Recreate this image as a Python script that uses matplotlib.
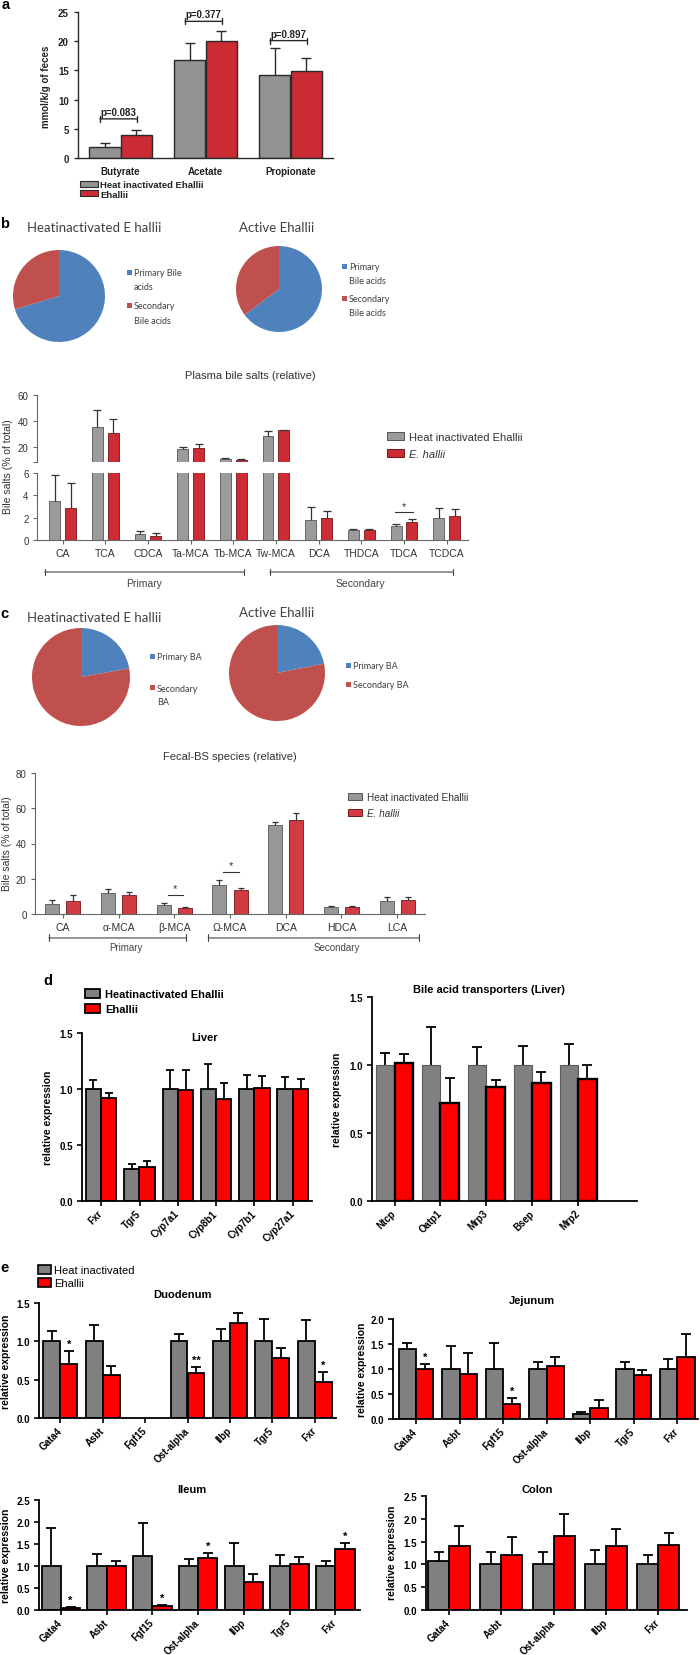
import numpy as np
import matplotlib
matplotlib.use("Agg")
import matplotlib.pyplot as plt
from matplotlib.patches import Rectangle

nan = np.nan

# ---------------- (a) faecal short-chain fatty acids ----------------
scfa_names = ["Butyrate", "Acetate", "Propionate"]
scfa_heat = [1.83, 16.8, 14.2]
scfa_heat_err = [0.74, 2.9, 4.6]
scfa_ehal = [4.0, 20.0, 14.9]
scfa_ehal_err = [0.86, 1.7, 2.3]
scfa_pvals = ["p=0.083", "p=0.377", "p=0.897"]
scfa_bracket_y = [6.7, 23.4, 20.1]

# ---------------- (b) plasma bile acids ----------------
pie_b_heat = [70.3, 29.7]      # primary, secondary
pie_b_active = [64.7, 35.3]
plasma_species = ["CA", "TCA", "CDCA", "Ta-MCA", "Tb-MCA", "Tw-MCA",
                  "DCA", "THDCA", "TDCA", "TCDCA"]
plasma_heat = [3.49, 35.2, 0.51, 17.9, 10.2, 28.3, 1.76, 0.90, 1.22, 2.00]
plasma_heat_err = [2.30, 13.2, 0.27, 1.8, 0.8, 4.1, 1.23, 0.11, 0.24, 0.90]
plasma_ehal = [2.87, 30.8, 0.36, 19.2, 9.2, 32.6, 2.00, 0.90, 1.58, 2.18]
plasma_ehal_err = [2.23, 10.4, 0.30, 3.1, 1.3, 0.0, 0.63, 0.09, 0.27, 0.63]
plasma_sig = ["", "", "", "", "", "", "", "", "*", ""]

# ---------------- (c) faecal bile acids ----------------
pie_c_heat = [22.2, 77.8]
pie_c_active = [21.9, 78.1]
fecal_species = ["CA", "α-MCA", "β-MCA", "Ω-MCA", "DCA", "HDCA", "LCA"]
fecal_heat = [5.9, 11.9, 4.9, 16.6, 50.3, 3.8, 7.6]
fecal_heat_err = [1.85, 2.1, 1.15, 2.5, 1.7, 0.55, 1.9]
fecal_ehal = [7.6, 10.6, 3.6, 13.4, 53.3, 3.8, 8.1]
fecal_ehal_err = [3.0, 2.1, 0.56, 1.35, 3.8, 0.55, 1.5]
fecal_sig = ["", "", "*", "*", "", "", ""]

# ---------------- (d) liver ----------------
liver_genes = ["Fxr", "Tgr5", "Cyp7a1", "Cyp8b1", "Cyp7b1", "Cyp27a1"]
liver_heat = [1.0, 0.289, 1.0, 1.0, 1.0, 1.0]
liver_heat_err = [0.083, 0.041, 0.17, 0.22, 0.128, 0.104]
liver_ehal = [0.92, 0.30, 0.99, 0.914, 1.012, 1.0]
liver_ehal_err = [0.041, 0.057, 0.18, 0.14, 0.107, 0.086]

trans_genes = ["Ntcp", "Oatp1", "Mrp3", "Bsep", "Mrp2"]
trans_heat = [1.0, 1.0, 1.0, 1.0, 1.0]
trans_heat_err = [0.089, 0.283, 0.13, 0.143, 0.155]
trans_ehal = [1.017, 0.717, 0.835, 0.867, 0.897]
trans_ehal_err = [0.062, 0.184, 0.052, 0.084, 0.103]

# ---------------- (e) intestine ----------------
gut_genes = ["Gata4", "Asbt", "Fgf15", "Ost-alpha", "Ilbp", "Tgr5", "Fxr"]
duo_heat = [1.0, 1.0, nan, 1.0, 1.0, 1.0, 1.0]
duo_heat_err = [0.13, 0.217, nan, 0.10, 0.16, 0.287, 0.278]
duo_ehal = [0.704, 0.56, nan, 0.59, 1.24, 0.787, 0.465]
duo_ehal_err = [0.17, 0.118, nan, 0.075, 0.125, 0.126, 0.131]
duo_sig = ["*", "", "", "**", "", "", "*"]

jej_heat = [1.394, 1.0, 1.0, 1.0, 0.094, 1.0, 1.0]
jej_heat_err = [0.126, 0.455, 0.52, 0.138, 0.046, 0.15, 0.2]
jej_ehal = [1.0, 0.91, 0.296, 1.07, 0.215, 0.889, 1.24]
jej_ehal_err = [0.10, 0.403, 0.128, 0.18, 0.175, 0.087, 0.47]
jej_sig = ["*", "", "*", "", "", "", ""]

ile_heat = [1.0, 1.0, 1.227, 1.0, 1.0, 1.0, 1.0]
ile_heat_err = [0.856, 0.265, 0.758, 0.16, 0.515, 0.242, 0.106]
ile_ehal = [0.045, 1.008, 0.09, 1.19, 0.636, 1.045, 1.394]
ile_ehal_err = [0.015, 0.112, 0.03, 0.10, 0.182, 0.165, 0.136]
ile_sig = ["*", "", "*", "*", "", "", "*"]

colon_genes = ["Gata4", "Asbt", "Ost-alpha", "Ilbp", "Fxr"]
col_heat = [1.067, 1.0, 1.0, 1.0, 1.0]
col_heat_err = [0.203, 0.27, 0.28, 0.31, 0.20]
col_ehal = [1.40, 1.213, 1.623, 1.40, 1.425]
col_ehal_err = [0.435, 0.381, 0.487, 0.37, 0.255]

# ====================================================================
W, H = 700, 1656
plt.rcParams["font.family"] = ["Liberation Sans", "DejaVu Sans"]
fig = plt.figure(figsize=(W / 100, H / 100), dpi=100)

BLUE, PRED = "#4F81BD", "#C0504D"
CAL = ["Lato", "DejaVu Sans"]


def axpx(l, t, r, b):
    return fig.add_axes([l / W, 1 - b / H, (r - l) / W, (b - t) / H])


def ftext(x, y, s, **kw):
    return fig.text(x / W, 1 - y / H, s, **kw)


def key(x, yc, w, h, fc, ec, lw, label, tx, **kw):
    fig.add_artist(Rectangle((x / W, 1 - (yc + h / 2) / H), w / W, h / H,
                             transform=fig.transFigure, facecolor=fc,
                             edgecolor=ec, linewidth=lw))
    ftext(tx, yc, label, va="center_baseline", **kw)


def paired(ax, x, m1, e1, m2, e2, off, width, c1, c2, ec1, ec2, lw1, lw2,
           ecol, elw, cap):
    m1 = np.asarray(m1, float); m2 = np.asarray(m2, float)
    e1 = np.asarray(e1, float); e2 = np.asarray(e2, float)
    ax.bar(x - off, m1, width, color=c1, edgecolor=ec1, linewidth=lw1, zorder=2)
    ax.bar(x + off, m2, width, color=c2, edgecolor=ec2, linewidth=lw2, zorder=2)
    for xx, m, e in ((x - off, m1, e1), (x + off, m2, e2)):
        _, caps, _ = ax.errorbar(xx, m, yerr=[np.zeros_like(m), e], fmt="none",
                                 ecolor=ecol, elinewidth=elw, capsize=cap,
                                 capthick=elw, zorder=3)
        if len(caps) == 2:
            caps[0].set_visible(False)


def spines(ax, color, lw, left=True, bottom=True):
    ax.spines["top"].set_visible(False)
    ax.spines["right"].set_visible(False)
    ax.spines["left"].set_visible(left)
    ax.spines["bottom"].set_visible(bottom)
    for s in ("left", "bottom"):
        ax.spines[s].set_color(color)
        ax.spines[s].set_linewidth(lw)


def pie_at(cx, cy, r, vals):
    ax = axpx(cx - r, cy - r, cx + r, cy + r)
    ax.pie(vals, colors=[BLUE, PRED], startangle=90, counterclock=False,
           wedgeprops=dict(linewidth=0))
    ax.set_xlim(-1, 1); ax.set_ylim(-1, 1)
    ax.set_aspect("equal", adjustable="box")
    ax.axis("off")


def pie_legend(sq_x, tx, rows, size=6.5):
    for lines, yc, col in rows:
        fig.add_artist(Rectangle((sq_x / W, 1 - (yc + 2.5) / H), 5 / W, 5 / H,
                                 transform=fig.transFigure, facecolor=col,
                                 edgecolor="none"))
        for k, ln in enumerate(lines):
            ftext(tx, yc + 14 * k, ln, va="center_baseline", family=CAL,
                  fontsize=size, color="#404040")


# panel letters
for lab, (lx, ly) in {"a": (2, 9), "b": (0, 228), "c": (0, 618),
                      "d": (43, 985), "e": (0, 1272)}.items():
    ftext(lx, ly, lab, fontsize=10.5, fontweight="bold", va="baseline")

# ======================= (a) =======================
ax = axpx(78, 13, 333, 159)
x = np.arange(len(scfa_names))
paired(ax, x, scfa_heat, scfa_heat_err, scfa_ehal, scfa_ehal_err, 0.185, 0.37,
       "#939393", "#CB2C34", "#2a2a2a", "#2a2a2a", 1.0, 1.0, "#2a2a2a", 1.0, 3.5)
ax.set_xlim(-0.5, 2.5); ax.set_ylim(0, 25)
ax.set_yticks([0, 5, 10, 15, 20, 25])
ax.set_xticks(x); ax.set_xticklabels(scfa_names)
spines(ax, "#2a2a2a", 1.0)
ax.tick_params(axis="x", length=0, pad=6)
ax.tick_params(axis="y", length=3, width=1, color="#2a2a2a")
for t in ax.get_xticklabels() + ax.get_yticklabels():
    t.set_fontweight("bold"); t.set_fontsize(7); t.set_color("#222")
for i, (p, yb) in enumerate(zip(scfa_pvals, scfa_bracket_y)):
    ax.annotate("", xy=(i + 0.19, yb), xytext=(i - 0.24, yb),
                arrowprops=dict(arrowstyle="|-|,widthA=0.22,widthB=0.22",
                                lw=1.0, color="#2a2a2a", shrinkA=0, shrinkB=0))
    ax.text(i - 0.02, yb + 0.35, p, ha="center", va="bottom", fontsize=7,
            fontweight="bold", color="#222")
ftext(46, 87, "mmol/k/g of feces", rotation=90, ha="center", va="center",
      fontsize=7, fontweight="bold", color="#222")
key(80, 185, 18, 5.5, "#939393", "#2a2a2a", 0.8, "Heat inactivated Ehallii", 100,
    fontsize=6.8, fontweight="bold", color="#222")
key(80, 194, 18, 5.5, "#CB2C34", "#2a2a2a", 0.8, "Ehallii", 100,
    fontsize=6.8, fontweight="bold", color="#222")

# ======================= (b) pies =======================
ftext(27, 232, "Heatinactivated E hallii", family=CAL, fontsize=9.5,
      color="#404040", va="baseline")
ftext(239, 232, "Active Ehallii", family=CAL, fontsize=9.5, color="#404040",
      va="baseline")
pie_at(59, 297, 46, pie_b_heat)
pie_at(279, 290, 43, pie_b_active)
pie_legend(127, 134, [(["Primary Bile", "acids"], 273, BLUE),
                      (["Secondary", "Bile acids"], 306, PRED)])
pie_legend(342, 349, [(["Primary", "Bile acids"], 267, BLUE),
                      (["Secondary", "Bile acids"], 299, PRED)])

# ======================= (b) plasma bars =======================
GB, RB = "#9B9B9B", "#CE2B34"
ftext(250, 375, "Plasma bile salts (relative)", ha="center",
      va="center_baseline", fontsize=8, color="#333")
axU = axpx(37, 396, 468, 463)
axL = axpx(37, 474, 468, 541)
xp = np.arange(len(plasma_species))
for a in (axU, axL):
    paired(a, xp, plasma_heat, plasma_heat_err, plasma_ehal, plasma_ehal_err,
           0.186, 0.256, GB, RB, "#555", "#6a1a1a", 0.6, 0.6, "#333", 0.9, 2.8)
    a.set_xlim(-0.6, 9.5)
axU.set_ylim(8, 60)
axU.set_yticks([8, 20, 40, 60]); axU.set_yticklabels(["", "20", "40", "60"])
axU.set_xticks([])
spines(axU, "#666", 0.8, bottom=False)
axL.set_ylim(0, 6)
axL.set_yticks([0, 2, 4, 6])
axL.set_xticks(xp); axL.set_xticklabels(plasma_species)
spines(axL, "#666", 0.8)
for a in (axU, axL):
    a.tick_params(length=3, width=0.8, color="#666", labelsize=7,
                  labelcolor="#333", pad=3)
axL.tick_params(axis="x", labelsize=7.5)
ptips = np.maximum(np.add(plasma_heat, plasma_heat_err),
                   np.add(plasma_ehal, plasma_ehal_err))
for i, s in enumerate(plasma_sig):
    if s:
        yl = ptips[i] + 0.7
        axL.plot([i - 0.21, i + 0.21], [yl, yl], color="#333", lw=0.8)
        axL.text(i, yl + 0.05, s, ha="center", va="bottom", fontsize=8,
                 color="#333")
ftext(8, 467, "Bile salts (% of total)", rotation=90, ha="center", va="center",
      fontsize=7.5, color="#333")
key(387, 437, 17, 7.5, GB, "#555", 0.7, "Heat inactivated Ehallii", 409,
    fontsize=8, color="#333")
key(387, 454, 17, 7.5, RB, "#6a1a1a", 0.7, "E. hallii", 409,
    fontsize=8, color="#333", style="italic")
trL = axL.get_xaxis_transform()
for (x0, x1, xt, lab) in [(-0.42, 4.26, 1.9, "Primary"),
                          (4.86, 9.14, 6.98, "Secondary")]:
    axL.annotate("", xy=(x1, -0.478), xytext=(x0, -0.478), xycoords=trL,
                 textcoords=trL,
                 arrowprops=dict(arrowstyle="|-|,widthA=0.25,widthB=0.25",
                                 lw=0.8, color="#444", shrinkA=0, shrinkB=0))
    axL.text(xt, -0.64, lab, transform=trL, ha="center", va="center",
             fontsize=7.5, color="#444")

# ======================= (c) pies =======================
ftext(27, 622, "Heatinactivated E hallii", family=CAL, fontsize=9.5,
      color="#404040", va="baseline")
ftext(239, 617, "Active Ehallii", family=CAL, fontsize=9.5, color="#404040",
      va="baseline")
pie_at(81, 678, 49, pie_c_heat)
pie_at(277, 674, 48, pie_c_active)
pie_legend(150, 157, [(["Primary BA"], 657, BLUE),
                      (["Secondary", "BA"], 688, PRED)])
pie_legend(346, 353, [(["Primary BA"], 666, BLUE),
                      (["Secondary BA"], 685, PRED)])

# ======================= (c) fecal bars =======================
GC, RC = "#979797", "#D13B41"
ftext(230, 756, "Fecal-BS species (relative)", ha="center",
      va="center_baseline", fontsize=8, color="#333")
axF = axpx(35, 774, 425, 915)
xf = np.arange(len(fecal_species))
paired(axF, xf, fecal_heat, fecal_heat_err, fecal_ehal, fecal_ehal_err,
       0.19, 0.25, GC, RC, "#555", "#6a1a1a", 0.6, 0.6, "#333", 0.9, 2.5)
axF.set_xlim(-0.5, 6.5); axF.set_ylim(0, 80)
axF.set_yticks([0, 20, 40, 60, 80])
axF.set_xticks(xf); axF.set_xticklabels(fecal_species)
spines(axF, "#666", 0.8)
axF.tick_params(length=3, width=0.8, color="#666", labelsize=7,
                labelcolor="#333", pad=3)
axF.tick_params(axis="x", labelsize=7.5)
ftips = np.maximum(np.add(fecal_heat, fecal_heat_err),
                   np.add(fecal_ehal, fecal_ehal_err))
for i, s in enumerate(fecal_sig):
    if s:
        yl = ftips[i] + 4.7
        axF.plot([i - 0.12, i + 0.16], [yl, yl], color="#333", lw=0.8)
        axF.text(i + 0.02, yl + 1.2, s, ha="center", va="bottom", fontsize=8,
                 color="#333")
ftext(7, 844, "Bile salts (% of total)", rotation=90, ha="center", va="center",
      fontsize=7.5, color="#333")
key(348, 797, 14, 7, GC, "#555", 0.7, "Heat inactivated Ehallii", 367,
    fontsize=7.2, color="#333")
key(348, 813, 14, 7, RC, "#6a1a1a", 0.7, "E. hallii", 367,
    fontsize=7.2, color="#333", style="italic")
trF = axF.get_xaxis_transform()
for (x0, x1, xt, lab) in [(-0.25, 2.21, 1.13, "Primary"),
                          (2.61, 6.4, 4.91, "Secondary")]:
    axF.annotate("", xy=(x1, -0.17), xytext=(x0, -0.17), xycoords=trF,
                 textcoords=trF,
                 arrowprops=dict(arrowstyle="|-|,widthA=0.25,widthB=0.25",
                                 lw=0.8, color="#444", shrinkA=0, shrinkB=0))
    axF.text(xt, -0.232, lab, transform=trF, ha="center", va="center",
             fontsize=7, color="#444")


# ======================= (d) & (e) gene expression =======================
def gene_panel(rect, genes, h, he, r, re, ylim, ystep, xlim, width=0.4,
               sig=None, gray_ec="black", gray_lw=1.3, red_lw=1.3,
               ylab_xy=None, title=None, title_xy=None, cap=3.3):
    ax = axpx(*rect)
    xg = np.arange(len(genes))
    paired(ax, xg, h, he, r, re, width / 2, width, "#808080", "#FF0000",
           gray_ec, "black", gray_lw, red_lw, "black", 1.3, cap)
    ax.set_xlim(*xlim); ax.set_ylim(*ylim)
    ax.set_yticks(np.arange(ylim[0], ylim[1] + 1e-9, ystep))
    ax.yaxis.set_major_formatter(matplotlib.ticker.FormatStrFormatter("%.1f"))
    ax.set_xticks(xg)
    ax.set_xticklabels(genes, rotation=45, ha="right", va="center",
                       rotation_mode="anchor")
    spines(ax, "black", 1.3)
    ax.tick_params(length=3.5, width=1.2, color="black", pad=3)
    ax.tick_params(axis="x", pad=4)
    for t in ax.get_xticklabels() + ax.get_yticklabels():
        t.set_fontweight("bold"); t.set_fontsize(7)
    if sig is not None:
        tips = np.add(r, re)
        for i, s in enumerate(sig):
            if s:
                ax.annotate(s, xy=(i + width / 2, tips[i]), xytext=(0, 1.5),
                            textcoords="offset points", ha="center",
                            va="bottom", fontsize=8, fontweight="bold")
    if ylab_xy:
        ftext(ylab_xy[0], ylab_xy[1], "relative expression", rotation=90,
              ha="center", va="center", fontsize=7.5, fontweight="bold")
    if title:
        ftext(title_xy[0], title_xy[1], title, ha="center",
              va="center_baseline", fontsize=8, fontweight="bold")
    return ax


# (d)
key(85, 994, 15, 9, "#808080", "black", 1.3, "Heatinactivated Ehallii", 105,
    fontsize=8, fontweight="bold")
key(85, 1009, 15, 9, "#FF0000", "black", 1.3, "Ehallii", 105,
    fontsize=8, fontweight="bold")
gene_panel((82, 1034, 312, 1202), liver_genes, liver_heat, liver_heat_err,
           liver_ehal, liver_ehal_err, (0, 1.5), 0.5, (-0.5, 5.5),
           ylab_xy=(48, 1118), title="Liver", title_xy=(205, 1037), cap=2.8)
gene_panel((372, 998, 637, 1202), trans_genes, trans_heat, trans_heat_err,
           trans_ehal, trans_ehal_err, (0, 1.5), 0.5, (-0.49, 5.28),
           gray_ec="#5a5a5a", gray_lw=0.8, red_lw=1.7,
           ylab_xy=(337, 1100), title="Bile acid transporters (Liver)",
           title_xy=(489, 989))

# (e)
key(38, 1270, 13, 9, "#808080", "black", 1.2, "Heat inactivated", 54,
    fontsize=8)
key(38, 1283, 13, 9, "#FF0000", "black", 1.2, "Ehallii", 54, fontsize=8)
gene_panel((39, 1304, 336, 1419), gut_genes, duo_heat, duo_heat_err,
           duo_ehal, duo_ehal_err, (0, 1.5), 0.5, (-0.5, 6.5), sig=duo_sig,
           ylab_xy=(6, 1362), title="Duodenum", title_xy=(182, 1294))
gene_panel((393, 1320, 698, 1420), gut_genes, jej_heat, jej_heat_err,
           jej_ehal, jej_ehal_err, (0, 2.0), 0.5, (-0.53, 6.48), sig=jej_sig,
           ylab_xy=(362, 1370), title="Jejunum", title_xy=(532, 1300))
gene_panel((39, 1501, 360, 1611), gut_genes, ile_heat, ile_heat_err,
           ile_ehal, ile_ehal_err, (0, 2.5), 0.5, (-0.48, 6.54), width=0.42,
           sig=ile_sig, ylab_xy=(6, 1556), title="Ileum",
           title_xy=(192, 1489))
gene_panel((426, 1497, 687, 1611), colon_genes, col_heat, col_heat_err,
           col_ehal, col_ehal_err, (0, 2.5), 0.5, (-0.44, 4.55),
           ylab_xy=(392, 1553), title="Colon", title_xy=(537, 1489))

fig.savefig("out.png", dpi=100)
